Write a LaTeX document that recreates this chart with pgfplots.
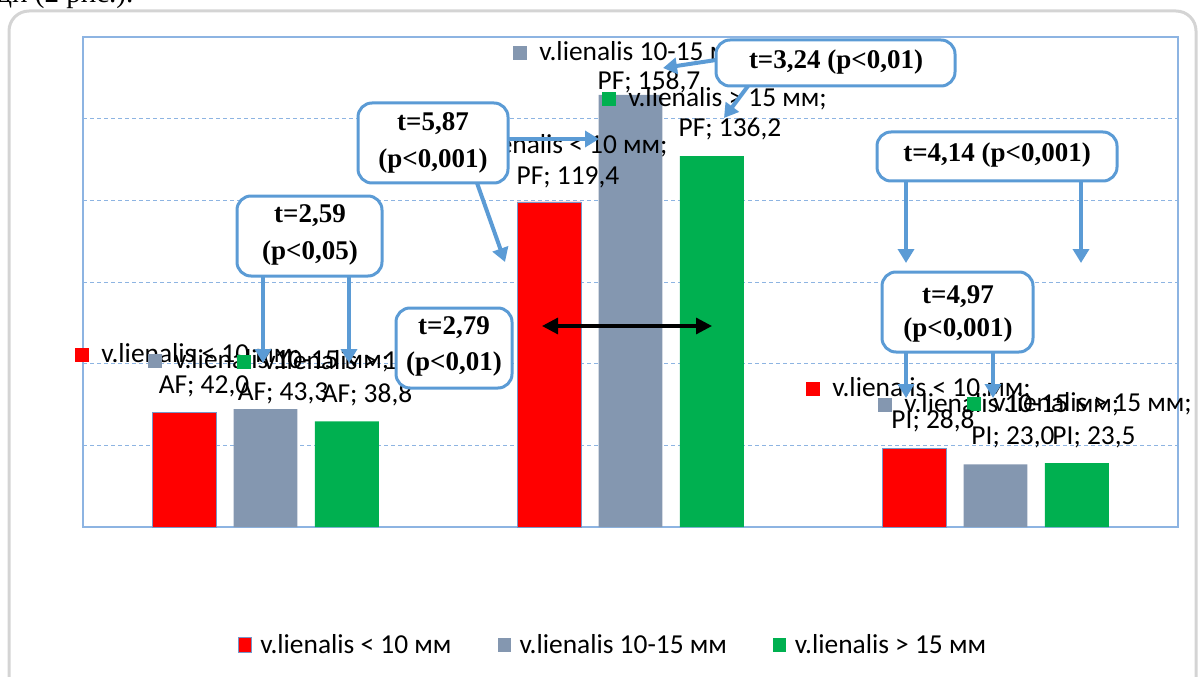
\documentclass[border=0pt]{standalone}
\usepackage{fontspec}
\setmainfont{Carlito}
\newfontfamily\tnr{Liberation Serif}
\usepackage{pgfplots}
\pgfplotsset{compat=1.18}
\usetikzlibrary{arrows.meta}

\definecolor{cred}{RGB}{255,0,0}
\definecolor{cgray}{RGB}{132,151,176}
\definecolor{cgreen}{RGB}{0,176,80}
\definecolor{gridblue}{RGB}{141,180,226}
\definecolor{boxblue}{RGB}{91,155,213}
\definecolor{outerc}{RGB}{212,212,212}
\definecolor{redline}{RGB}{120,150,200}

\newcommand\lf{\fontsize{13.7pt}{16pt}\selectfont}
\newcommand\bxf{\tnr\bfseries\fontsize{13.5pt}{16pt}\selectfont}
\newcommand\mk[1]{\textcolor{#1}{\rule[0.6pt]{7pt}{6.8pt}}\hspace{6pt}}

\begin{document}
\begin{tikzpicture}
\path[use as bounding box] (0,0) rectangle (599pt,338pt);
\begin{scope}[x=0.5pt,y=-0.5pt,yshift=338pt]
  \clip (0,0) rectangle (1198,676);
  \draw[outerc, line width=1.5pt, rounded corners=10pt] (9,11) rectangle (1196,710);
  \begin{scope}
    \clip (0,-5) rectangle (400,9.5);
    \node[anchor=base west, inner sep=0] at (-3,3) {\tnr\fontsize{14.5pt}{16pt}\selectfont ди (2 рис.).};
  \end{scope}
\end{scope}

\begin{axis}[
  at={(41.5pt,74.5pt)}, anchor=south west,
  width=547.5pt, height=245pt, scale only axis,
  xmin=-0.5, xmax=2.5, ymin=0, ymax=180,
  xtick=\empty, ytick={30,60,90,120,150,180}, yticklabels={},
  major tick length=0pt,
  ymajorgrids,
  grid style={gridblue, dash pattern=on 2pt off 1.5pt, line width=0.5pt},
  axis line style={gridblue, line width=0.6pt},
  ybar, bar width=0.175,
  legend columns=3,
  legend style={at={(0.4848,-0.241)}, anchor=center, draw=none, fill=none,
    font=\lf, /tikz/every even column/.append style={column sep=21pt}},
  legend cell align=left,
]
\addplot[fill=cred, draw=redline, line width=0.4pt, bar shift=-0.223,
  legend image code/.code={\fill[cred, draw=redline, line width=0.4pt] (0pt,-3.6pt) rectangle (6.5pt,3.6pt); \path (9pt,0pt);}]
  coordinates {(0,42.0) (1,119.4) (2,28.8)};
\addlegendentry{v.lienalis < 10 мм}
\addplot[fill=cgray, draw=none, bar shift=0,
  legend image code/.code={\fill[cgray] (0pt,-3.6pt) rectangle (6.5pt,3.6pt); \path (9pt,0pt);}]
  coordinates {(0,43.3) (1,158.7) (2,23.0)};
\addlegendentry{v.lienalis 10-15 мм}
\addplot[fill=cgreen, draw=none, bar shift=0.223,
  legend image code/.code={\fill[cgreen] (0pt,-3.6pt) rectangle (6.5pt,3.6pt); \path (9pt,0pt);}]
  coordinates {(0,38.8) (1,136.2) (2,23.5)};
\addlegendentry{v.lienalis > 15 мм}
\end{axis}

\begin{scope}[x=0.5pt,y=-0.5pt,yshift=338pt, every node/.style={inner sep=0pt, text=black}]
  % data labels, line 1
  \node[anchor=west, font=\lf] at (75,355) {\mk{cred}v.lienalis < 10 мм;};
  \node[anchor=west, font=\lf] at (148,361) {\mk{cgray}v.lienalis 10-15 мм;};
  \node[anchor=west, font=\lf] at (237,362) {\mk{cgreen}v.lienalis > 15 мм;};
  \node[anchor=east, font=\lf] at (668,146) {\mk{cred}v.lienalis < 10 мм;};
  \node[anchor=west, font=\lf] at (513,53) {\mk{cgray}v.lienalis 10-15 мм;};
  \node[anchor=west, font=\lf] at (602,99) {\mk{cgreen}v.lienalis > 15 мм;};
  \node[anchor=west, font=\lf] at (806,389) {\mk{cred}v.lienalis < 10 мм;};
  \node[anchor=west, font=\lf] at (878,405) {\mk{cgray}v.lienalis 10-15 мм;};
  \node[anchor=west, font=\lf] at (967,404) {\mk{cgreen}v.lienalis > 15 мм;};
  % data labels, line 2
  \node[font=\lf] at (204,386) {AF; 42,0};
  \node[font=\lf] at (283,393) {AF; 43,3};
  \node[font=\lf] at (367,395) {AF; 38,8};
  \node[font=\lf] at (568,177) {PF; 119,4};
  \node[font=\lf] at (649,82) {PF; 158,7};
  \node[font=\lf] at (730,129) {PF; 136,2};
  \node[font=\lf] at (933,421) {PI; 28,8};
  \node[font=\lf] at (1013,437) {PI; 23,0};
  \node[font=\lf] at (1094,437) {PI; 23,5};

  % arrows
  \begin{scope}[boxblue, line width=2pt, -{Triangle[width=8pt,length=7pt]}]
    \draw (263,276) -- (263,363);
    \draw (349,276) -- (349,363);
    \draw (508,139) -- (599,139);
    \draw (477,183) -- (505,262);
    \draw (716,60) -- (663,68);
    \draw (748,86) -- (724,118);
    \draw (906,181) -- (906,263);
    \draw (1081,181) -- (1081,263);
    \draw (906,352) -- (906,398);
    \draw (993,352) -- (993,398);
  \end{scope}
  \draw[black, line width=1.6pt, {Triangle[width=8pt,length=8pt]}-{Triangle[width=8pt,length=8pt]}] (542,326) -- (712,326);

  % callout boxes
  \begin{scope}[draw=boxblue, line width=1.5pt, fill=white, rounded corners=7pt]
    \filldraw (237,196) rectangle (382,276);
    \filldraw (358,103) rectangle (508,183);
    \filldraw (716,40) rectangle (955,86);
    \filldraw (396,308) rectangle (512,388);
    \filldraw (877,132) rectangle (1117,181);
    \filldraw (882,272) rectangle (1033,352);
  \end{scope}
  \node[font=\bxf] at (310,216) {t=2,59};
  \node[font=\bxf] at (310,253) {(p<0,05)};
  \node[font=\bxf] at (433,124) {t=5,87};
  \node[font=\bxf] at (433,161) {(p<0,001)};
  \node[font=\bxf] at (836,62) {t=3,24 (p<0,01)};
  \node[font=\bxf] at (454,328) {t=2,79};
  \node[font=\bxf] at (454,364) {(p<0,01)};
  \node[font=\bxf] at (997,155) {t=4,14 (p<0,001)};
  \node[font=\bxf] at (958,297) {t=4,97};
  \node[font=\bxf] at (958,330) {(p<0,001)};
\end{scope}
\end{tikzpicture}
\end{document}
